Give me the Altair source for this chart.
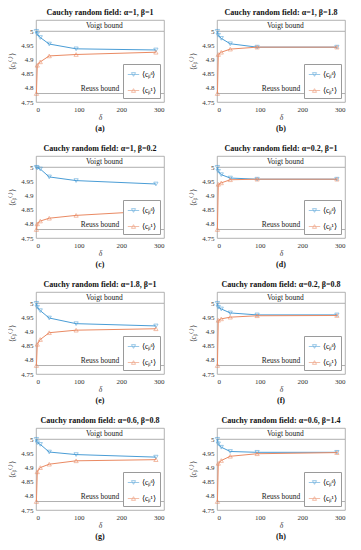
import altair as alt
import pandas as pd

# ---------------- data ----------------
DELTA = [1, 3, 10, 31, 94, 281]

TITLES = [
    "Cauchy random field: α=1, β=1",
    "Cauchy random field: α=1, β=1.8",
    "Cauchy random field: α=1, β=0.2",
    "Cauchy random field: α=0.2, β=1",
    "Cauchy random field: α=1.8, β=1",
    "Cauchy random field: α=0.2, β=0.8",
    "Cauchy random field: α=0.6, β=0.8",
    "Cauchy random field: α=0.6, β=1.4",
]
CAPTIONS = ["(a)", "(b)", "(c)", "(d)", "(e)", "(f)", "(g)", "(h)"]

C_DELTA = [
    [5.0, 4.99, 4.978, 4.955, 4.938, 4.934],
    [5.0, 4.986, 4.975, 4.956, 4.944, 4.944],
    [5.0, 4.998, 4.994, 4.966, 4.953, 4.941],
    [5.0, 4.986, 4.974, 4.962, 4.958, 4.958],
    [5.0, 4.986, 4.974, 4.948, 4.928, 4.92],
    [5.0, 4.986, 4.98, 4.966, 4.959, 4.959],
    [5.0, 4.988, 4.982, 4.955, 4.946, 4.937],
    [5.0, 4.984, 4.972, 4.957, 4.954, 4.954],
]
C_ONE = [
    [4.78, 4.88, 4.892, 4.913, 4.918, 4.926],
    [4.78, 4.918, 4.926, 4.937, 4.944, 4.944],
    [4.78, 4.80, 4.81, 4.82, 4.83, 4.846],
    [4.78, 4.94, 4.945, 4.956, 4.958, 4.958],
    [4.78, 4.855, 4.872, 4.896, 4.905, 4.91],
    [4.78, 4.94, 4.945, 4.951, 4.956, 4.957],
    [4.78, 4.885, 4.90, 4.912, 4.924, 4.928],
    [4.78, 4.915, 4.925, 4.94, 4.949, 4.953],
]

BOUND_VALUES = [5.0, 4.78]
BOUND_LABELS = ["Voigt bound", "Reuss bound"]
BOUND_LABEL_X = [160, 150]

SERIES = ["⟨cᵦᵟ⟩", "⟨cᵦ¹⟩"]
X_TICKS = [0, 100, 200, 300]
Y_TICKS = [4.75, 4.8, 4.85, 4.9, 4.95, 5.0]

# ---------------- style ----------------
BLUE = "#4a9dd6"
ORANGE = "#ea8a63"
GRAY = "#9a9a9a"
FONT = "Liberation Serif"
W, H = 128, 82
PATH_DOWN = "M-1,0H1M-0.36,-0.32H0.36L0,0.32Z"
PATH_UP = "M-1,0H1M-0.36,0.32H0.36L0,-0.32Z"


def panel(i):
    df = pd.DataFrame({
        "delta": DELTA + DELTA,
        "c": C_DELTA[i] + C_ONE[i],
        "series": [SERIES[0]] * len(DELTA) + [SERIES[1]] * len(DELTA),
    })
    bounds = pd.DataFrame({"c": BOUND_VALUES, "delta": BOUND_LABEL_X, "label": BOUND_LABELS})
    cap = pd.DataFrame({"label": [CAPTIONS[i]]})

    x = alt.X("delta:Q",
              scale=alt.Scale(domain=[0, 300], nice=False),
              axis=alt.Axis(values=X_TICKS, title="δ", titleFontStyle="italic",
                            titleFontWeight="normal", labelPadding=3, titlePadding=1))
    y = alt.Y("c:Q",
              scale=alt.Scale(domain=[4.75, 5.04], nice=False, zero=False),
              axis=alt.Axis(values=Y_TICKS, format="~g", title="⟨cᵦ⁽·⁾⟩",
                            titleFontWeight="normal", labelPadding=3, titlePadding=4))

    rule = alt.Chart(bounds).mark_rule(color=GRAY, strokeWidth=0.8).encode(y=y)
    btext = alt.Chart(bounds).mark_text(
        baseline="bottom", dy=-1, font=FONT, fontSize=7.5, color="#222"
    ).encode(x=x, y=y, text="label:N")

    layers = [rule, btext]
    for s, col, shp in [(SERIES[0], BLUE, "triangle-down"), (SERIES[1], ORANGE, "triangle-up")]:
        base = alt.Chart(df).transform_filter(alt.datum.series == s)
        layers.append(base.mark_line(color=col, strokeWidth=1).encode(x=x, y=y))
        layers.append(base.mark_point(color=col, shape=shp, size=18, strokeWidth=0.8,
                                      filled=False).encode(x=x, y=y))

    leg = alt.Legend(title=None, orient="bottom-right", offset=4, padding=4,
                     fillColor="white", strokeColor=GRAY, labelFont=FONT,
                     labelFontSize=7.5, symbolSize=130, symbolStrokeWidth=0.8,
                     rowPadding=6, labelOffset=2)
    legend_layer = alt.Chart(df).transform_filter("false").mark_point(
        size=130, filled=False, strokeWidth=0.8
    ).encode(
        x=x, y=y,
        color=alt.Color("series:N", scale=alt.Scale(domain=SERIES, range=[BLUE, ORANGE]), legend=leg),
        shape=alt.Shape("series:N", scale=alt.Scale(domain=SERIES, range=[PATH_DOWN, PATH_UP]), legend=leg),
    )
    layers.append(legend_layer)

    caption = alt.Chart(cap).mark_text(
        font=FONT, fontSize=8, fontWeight="bold", baseline="middle", color="#111"
    ).encode(x=alt.value(W / 2), y=alt.value(H + 27), text="label:N")
    layers.append(caption)

    return alt.layer(*layers).properties(
        width=W, height=H,
        title=alt.TitleParams(TITLES[i], font=FONT, fontSize=8, fontWeight="bold",
                              anchor="middle", frame="group", offset=3, color="#111"),
    )


rows = []
for r in range(4):
    rows.append(
        alt.hconcat(panel(2 * r), panel(2 * r + 1), spacing=24)
        .resolve_legend(color="independent", shape="independent")
        .resolve_scale(color="independent", shape="independent")
    )

chart = alt.vconcat(*rows, spacing=10).properties(
    padding={"left": 0, "top": 0, "right": 0, "bottom": 0}
).resolve_legend(
    color="independent", shape="independent"
).resolve_scale(
    color="independent", shape="independent"
).configure_view(
    stroke="#a0a0a0", strokeWidth=0.8
).configure_axis(
    labelFont=FONT, titleFont=FONT, labelFontSize=7, titleFontSize=7.5,
    labelColor="#333", titleColor="#333", grid=False, ticks=False, domain=False,
)

chart.save("out.html", embed_options={"renderer": "svg", "actions": False})
